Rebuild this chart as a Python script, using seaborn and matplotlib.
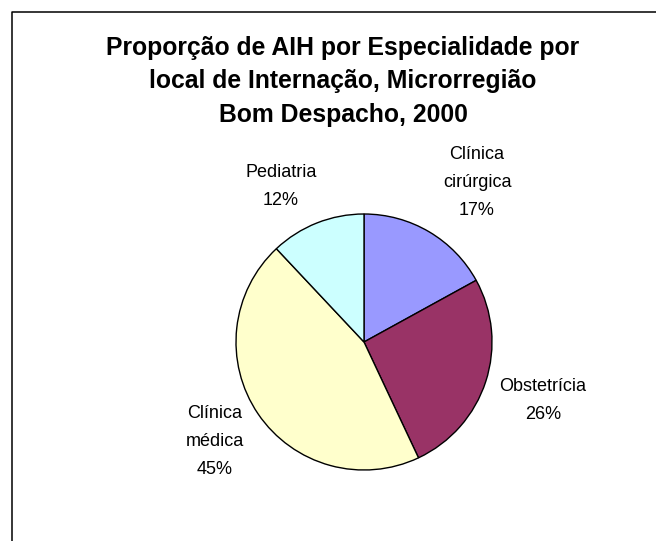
import matplotlib
matplotlib.use("Agg")
import matplotlib.pyplot as plt
from matplotlib.lines import Line2D
import seaborn as sns

# Hospital admissions (AIH) share by specialty
categories = ["Clínica\ncirúrgica", "Obstetrícia", "Clínica\nmédica", "Pediatria"]
shares = [17, 26, 45, 12]
colors = ["#9999FF", "#993366", "#FFFFCC", "#CCFFFF"]

title_lines = [
    "Proporção de AIH por Especialidade por",
    "local de Internação, Microrregião",
    "Bom Despacho, 2000",
]

# label anchor (last-line baseline) relative to pie centre, in pie radii
label_pos = [(0.883, 0.992), (1.398, -0.602), (-1.164, -1.031), (-0.648, 1.070)]

sns.set_theme(style="white")
plt.rcParams["font.family"] = ["Liberation Sans", "DejaVu Sans"]

W, H, DPI = 656, 541, 100
fig = plt.figure(figsize=(W / DPI, H / DPI), dpi=DPI)
fig.patch.set_facecolor("white")

cx, cy, r = 364, 342, 128
ax = fig.add_axes([(cx - r) / W, (H - cy - r) / H, 2 * r / W, 2 * r / H])
ax.pie(
    shares,
    colors=colors,
    startangle=90,
    counterclock=False,
    radius=1,
    wedgeprops=dict(edgecolor="black", linewidth=1.0),
)
ax.set_xlim(-1, 1)
ax.set_ylim(-1, 1)
ax.set_aspect("equal")
ax.axis("off")

for cat, val, (dx, dy) in zip(categories, shares, label_pos):
    ax.text(
        dx, dy, f"{cat}\n{val}%",
        ha="center", va="baseline", multialignment="center",
        fontsize=13, color="black", linespacing=1.85, clip_on=False,
    )

# title, one line at a time
for line, base in zip(title_lines, [55, 88, 122]):
    fig.text(343 / W, 1 - base / H, line, ha="center", va="baseline",
             fontsize=17.8, fontweight="bold", color="black")

# chart area border (left and top edges)
fig.add_artist(Line2D([11.5 / W, 11.5 / W, 1.0], [0.0, 1 - 12 / H, 1 - 12 / H],
                      transform=fig.transFigure, color="black", linewidth=1.1))

fig.savefig("out.png", dpi=DPI, facecolor="white")
